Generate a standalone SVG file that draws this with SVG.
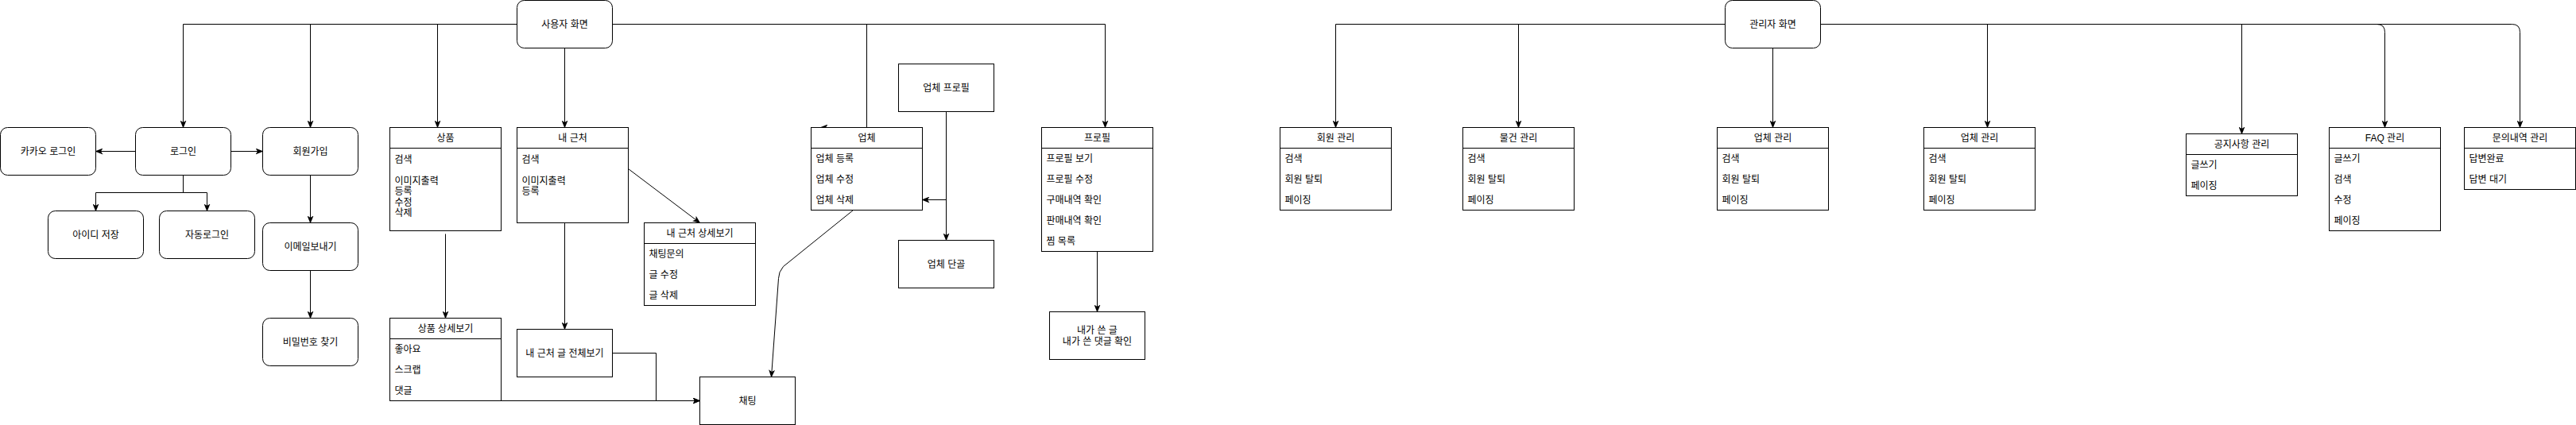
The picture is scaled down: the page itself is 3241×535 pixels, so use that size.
<svg xmlns="http://www.w3.org/2000/svg" width="3241" height="535" viewBox="0 0 3241 535">
<style>
rect{fill:#fff;stroke:#000;stroke-width:1}
line.h{stroke:#000;stroke-width:1}
text{font-family:"Liberation Sans","Noto Sans CJK KR",sans-serif;font-size:12px;fill:#000}
.c{text-anchor:middle}
.e{fill:none;stroke:#000;stroke-width:1;marker-end:url(#a)}
</style>
<defs>
<marker id="a" markerUnits="userSpaceOnUse" markerWidth="10" markerHeight="8" viewBox="0 0 10 8" refX="9" refY="4" orient="auto">
<path d="M0,0 L10,4 L0,8 L2.5,4 z" fill="#000"/>
</marker>
</defs>
<rect x="-1" y="-1" width="3243" height="537" style="fill:#fff;stroke:none"/>
<g transform="translate(0.5,0.5)">
<g id="edges">
<path class="e" d="M650,30 H230 V160"/>
<path class="e" d="M650,30 H390 V160"/>
<path class="e" d="M650,30 H550 V160"/>
<path class="e" d="M710,60 V160"/>
<path class="e" d="M770,30 H1090 V160 H1032"/>
<path class="e" d="M770,30 H1390 V160"/>
<path class="e" d="M170,190 H120"/>
<path class="e" d="M290,190 H330"/>
<path class="e" d="M230,220 V242 H120 V265"/>
<path class="e" d="M230,220 V242 H260 V265"/>
<path class="e" d="M390,220 V280"/>
<path class="e" d="M390,340 V400"/>
<path class="e" d="M560,294 V400"/>
<path class="e" d="M710,280 V414"/>
<path class="e" d="M790,212 L880,280"/>
<path class="e" d="M770,444 H825 V504 H880"/>
<path class="e" d="M555,504 H880"/>
<path class="e" d="M1073,264 L985,335 Q979,342 979,350 L970,474"/>
<path class="e" d="M1190,140 V251 H1160"/>
<path class="e" d="M1190,140 V302"/>
<path class="e" d="M1380,316 V392"/>
<path class="e" d="M2170,30 H1680 V160"/>
<path class="e" d="M2170,30 H1910 V160"/>
<path class="e" d="M2230,60 V160"/>
<path class="e" d="M2290,30 H2500 V160"/>
<path class="e" d="M2290,30 H2820 V168"/>
<path class="e" d="M2290,30 H2990 Q3000,30 3000,40 V160"/>
<path class="e" d="M2290,30 H3160 Q3170,30 3170,40 V160"/>
</g>

<g id="user-screen"><rect x="650" y="0" width="120" height="60" rx="9"/><text class="c" x="710" y="34">사용자 화면</text></g>
<g id="kakao-login"><rect x="0" y="160" width="120" height="60" rx="9"/><text class="c" x="60" y="194">카카오 로그인</text></g>
<g id="login"><rect x="170" y="160" width="120" height="60" rx="9"/><text class="c" x="230" y="194">로그인</text></g>
<g id="signup"><rect x="330" y="160" width="120" height="60" rx="9"/><text class="c" x="390" y="194">회원가입</text></g>
<g id="save-id"><rect x="60" y="265" width="120" height="60" rx="9"/><text class="c" x="120" y="299">아이디 저장</text></g>
<g id="auto-login"><rect x="200" y="265" width="120" height="60" rx="9"/><text class="c" x="260" y="299">자동로그인</text></g>
<g id="send-email"><rect x="330" y="280" width="120" height="60" rx="9"/><text class="c" x="390" y="314">이메일보내기</text></g>
<g id="find-pw"><rect x="330" y="400" width="120" height="60" rx="9"/><text class="c" x="390" y="434">비밀번호 찾기</text></g>

<g id="product"><rect x="490" y="160" width="140" height="130"/><line class="h" x1="490" y1="186" x2="630" y2="186"/><text class="c" x="560" y="177">상품</text>
<text x="496" y="204">검색</text><text x="496" y="231">이미지출력</text><text x="496" y="244.5">등록</text><text x="496" y="258">수정</text><text x="496" y="271.5">삭제</text></g>
<g id="nearby"><rect x="650" y="160" width="140" height="120"/><line class="h" x1="650" y1="186" x2="790" y2="186"/><text class="c" x="720" y="177">내 근처</text>
<text x="656" y="204">검색</text><text x="656" y="231">이미지출력</text><text x="656" y="244.5">등록</text></g>
<g id="product-detail"><rect x="490" y="400" width="140" height="104"/><line class="h" x1="490" y1="426" x2="630" y2="426"/><text class="c" x="560" y="417">상품 상세보기</text>
<text x="496" y="443">좋아요</text><text x="496" y="469">스크랩</text><text x="496" y="495">댓글</text></g>
<g id="nearby-all"><rect x="650" y="414" width="120" height="60"/><text class="c" x="710" y="448">내 근처 글 전체보기</text></g>
<g id="nearby-detail"><rect x="810" y="280" width="140" height="104"/><line class="h" x1="810" y1="306" x2="950" y2="306"/><text class="c" x="880" y="297">내 근처 상세보기</text>
<text x="816" y="323">채팅문의</text><text x="816" y="349">글 수정</text><text x="816" y="375">글 삭제</text></g>
<g id="chat"><rect x="880" y="474" width="120" height="60"/><text class="c" x="940" y="508">채팅</text></g>
<g id="company"><rect x="1020" y="160" width="140" height="104"/><line class="h" x1="1020" y1="186" x2="1160" y2="186"/><text class="c" x="1090" y="177">업체</text>
<text x="1026" y="203">업체 등록</text><text x="1026" y="229">업체 수정</text><text x="1026" y="255">업체 삭제</text></g>
<g id="company-profile"><rect x="1130" y="80" width="120" height="60"/><text class="c" x="1190" y="114">업체 프로필</text></g>
<g id="company-regular"><rect x="1130" y="302" width="120" height="60"/><text class="c" x="1190" y="336">업체 단골</text></g>
<g id="profile"><rect x="1310" y="160" width="140" height="156"/><line class="h" x1="1310" y1="186" x2="1450" y2="186"/><text class="c" x="1380" y="177">프로필</text>
<text x="1316" y="203">프로필 보기</text><text x="1316" y="229">프로필 수정</text><text x="1316" y="255">구매내역 확인</text><text x="1316" y="281">판매내역 확인</text><text x="1316" y="307">찜 목록</text></g>
<g id="my-posts"><rect x="1320" y="392" width="120" height="60"/><text class="c" x="1380" y="419">내가 쓴 글</text><text class="c" x="1380" y="433">내가 쓴 댓글 확인</text></g>

<g id="admin-screen"><rect x="2170" y="0" width="120" height="60" rx="9"/><text class="c" x="2230" y="34">관리자 화면</text></g>
<g id="member-mgmt"><rect x="1610" y="160" width="140" height="104"/><line class="h" x1="1610" y1="186" x2="1750" y2="186"/><text class="c" x="1680" y="177">회원 관리</text>
<text x="1616" y="203">검색</text><text x="1616" y="229">회원 탈퇴</text><text x="1616" y="255">페이징</text></g>
<g id="item-mgmt"><rect x="1840" y="160" width="140" height="104"/><line class="h" x1="1840" y1="186" x2="1980" y2="186"/><text class="c" x="1910" y="177">물건 관리</text>
<text x="1846" y="203">검색</text><text x="1846" y="229">회원 탈퇴</text><text x="1846" y="255">페이징</text></g>
<g id="company-mgmt-1"><rect x="2160" y="160" width="140" height="104"/><line class="h" x1="2160" y1="186" x2="2300" y2="186"/><text class="c" x="2230" y="177">업체 관리</text>
<text x="2166" y="203">검색</text><text x="2166" y="229">회원 탈퇴</text><text x="2166" y="255">페이징</text></g>
<g id="company-mgmt-2"><rect x="2420" y="160" width="140" height="104"/><line class="h" x1="2420" y1="186" x2="2560" y2="186"/><text class="c" x="2490" y="177">업체 관리</text>
<text x="2426" y="203">검색</text><text x="2426" y="229">회원 탈퇴</text><text x="2426" y="255">페이징</text></g>
<g id="notice-mgmt"><rect x="2750" y="168" width="140" height="78"/><line class="h" x1="2750" y1="194" x2="2890" y2="194"/><text class="c" x="2820" y="185">공지사항 관리</text>
<text x="2756" y="211">글쓰기</text><text x="2756" y="237">페이징</text></g>
<g id="faq-mgmt"><rect x="2930" y="160" width="140" height="130"/><line class="h" x1="2930" y1="186" x2="3070" y2="186"/><text class="c" x="3000" y="177">FAQ 관리</text>
<text x="2936" y="203">글쓰기</text><text x="2936" y="229">검색</text><text x="2936" y="255">수정</text><text x="2936" y="281">페이징</text></g>
<g id="inquiry-mgmt"><rect x="3100" y="160" width="140" height="78"/><line class="h" x1="3100" y1="186" x2="3240" y2="186"/><text class="c" x="3170" y="177">문의내역 관리</text>
<text x="3106" y="203">답변완료</text><text x="3106" y="229">답변 대기</text></g>
</g>
</svg>
